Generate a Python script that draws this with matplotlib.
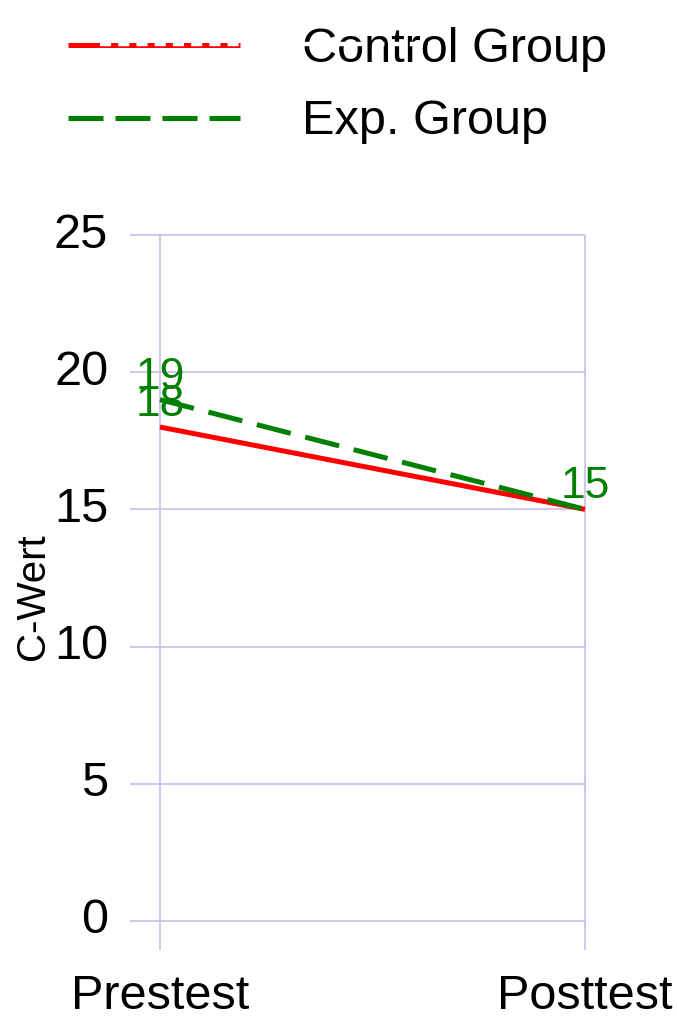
import numpy as np
import matplotlib.pyplot as plt
from matplotlib.lines import Line2D

plt.rcParams['font.family'] = ['Liberation Sans', 'DejaVu Sans']

# data
phases = ['Prestest', 'Posttest']
control_vals = [18, 15]
exp_vals = [19, 15]
y_ticks = [0, 5, 10, 15, 20, 25]
legend_labels = ['Control Group', 'Exp. Group']

GRID = '#cdbbea'
RED = '#ff0000'
GREEN = '#008000'

fig = plt.figure(figsize=(6.77, 10.19), dpi=100)
W, H = 677, 1019
# axes box: x 130..585 px, y 235..950 px
ax = fig.add_axes([130 / W, 1 - 950 / H, (585 - 130) / W, (950 - 235) / H])
x = np.arange(len(phases))
ax.set_xlim(-0.0706, 1.0)
ax.set_ylim(-1.06, 25)
for s in ax.spines.values():
    s.set_visible(False)
ax.set_xticks([])
ax.set_yticks([])

# grid (horizontal lines reach out as tick marks, vertical reach below zero)
ax.hlines(y_ticks, -0.0706, 1.0, color=GRID, lw=1.2, clip_on=False, zorder=1)
ax.vlines(x, -1.06, 25, color=GRID, lw=1.2, clip_on=False, zorder=1)

for yv in y_ticks:
    ax.text(-0.122, yv, str(yv), ha='right', va='center', fontsize=35)
for xi, lab in zip(x, phases):
    ax.text(xi, -3.2, lab, ha='center', va='baseline', fontsize=35)
fig.text(33 / W, 1 - 597 / H, 'C-Wert', rotation=90, ha='center', va='center', fontsize=29)

ax.plot(x, control_vals, color=RED, lw=3.6, solid_capstyle='butt', zorder=3, clip_on=False)
ax.plot(x, exp_vals, color=GREEN, lw=3.6, dashes=(7, 3), zorder=4, clip_on=False)

for xi, v in zip(x, exp_vals):
    ax.annotate(str(v), (xi, v), xytext=(0, 1.5), textcoords='offset points',
                ha='center', va='bottom', fontsize=32, color=GREEN, zorder=5)
ax.annotate(str(control_vals[0]), (x[0], control_vals[0]), xytext=(0, 1.5),
            textcoords='offset points', ha='center', va='bottom', fontsize=32,
            color=GREEN, zorder=5)

# legend, drawn by hand at top left
leg_styles = [dict(color=RED, lw=3.6, solid_capstyle='butt'),
              dict(color=GREEN, lw=3.6, dashes=(7, 2.4))]
for i, (lab, st) in enumerate(zip(legend_labels, leg_styles)):
    yy = 1 - (45 + 73 * i) / H
    fig.add_artist(Line2D([68 / W, 240 / W], [yy, yy], transform=fig.transFigure, **st))
    fig.text(302 / W, yy - 4 / H, lab, ha='left', va='center', fontsize=35)

# white dashed artefact over the first legend entry
fig.add_artist(Line2D([100 / W, 445 / W], [1 - 44 / H, 1 - 44 / H], color='white',
                      lw=3.2, dashes=(2.5, 1.6), transform=fig.transFigure, zorder=10))

fig.savefig('out.png', dpi=100)
